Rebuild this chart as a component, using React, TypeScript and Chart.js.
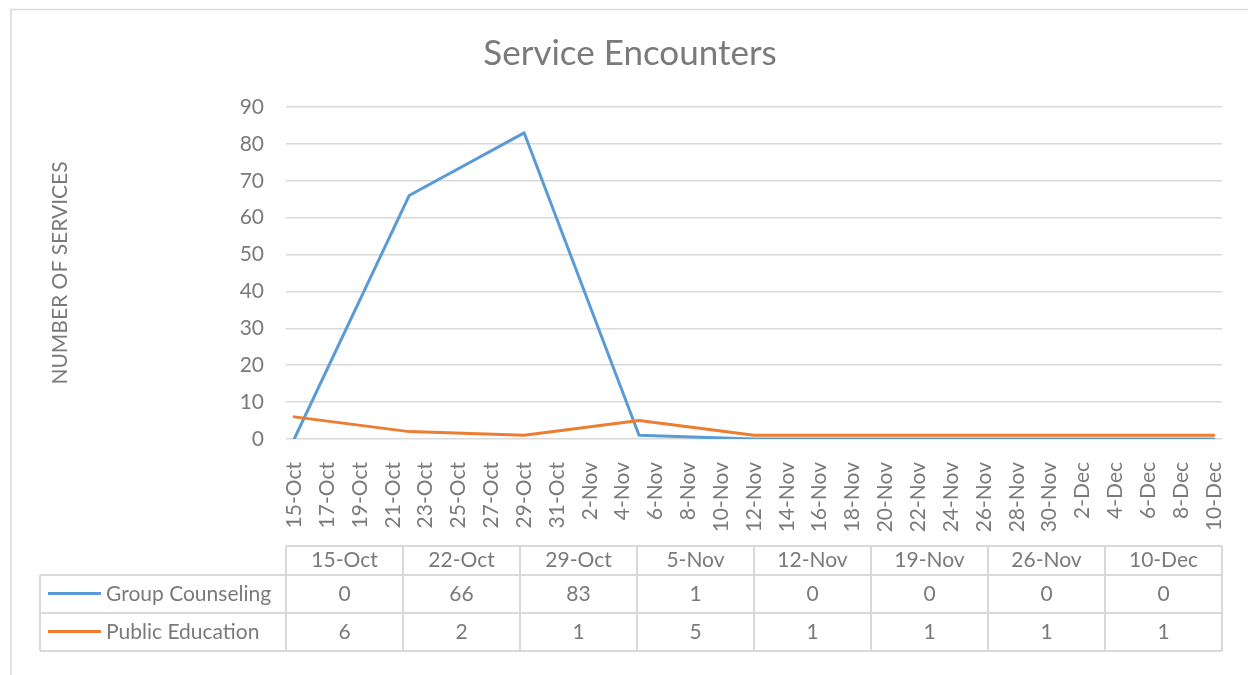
import React, { useEffect, useRef } from "react";
import { Chart, registerables } from "chart.js";

Chart.register(...registerables);

// ---------- data ----------
const YEAR = 2014;
const MONTHS = ["Jan", "Feb", "Mar", "Apr", "May", "Jun", "Jul", "Aug", "Sep", "Oct", "Nov", "Dec"];
const categories = ["15-Oct", "22-Oct", "29-Oct", "5-Nov", "12-Nov", "19-Nov", "26-Nov", "10-Dec"];
const groupCounseling = [0, 66, 83, 1, 0, 0, 0, 0];
const publicEducation = [6, 2, 1, 5, 1, 1, 1, 1];
const seriesNames = ["Group Counseling", "Public Education"];
const axisStartLabel = "15-Oct";
const axisEndLabel = "10-Dec";
const tickStepDays = 2;
const yMax = 90;
const yStep = 10;
const titleText = "Service Encounters";
const yTitleText = "NUMBER OF SERVICES";

// ---------- styles ----------
const BLUE = "#5B9BD5";
const ORANGE = "#ED7D31";
const TEXT = "#7a7a7a";
const GRID = "#d9d9d9";
const FONT = "Lato";

const DAY = 86400000;
function parseLabel(s: string): number {
  const [d, m] = s.split("-");
  return Date.UTC(YEAR, MONTHS.indexOf(m), parseInt(d, 10));
}
const t0 = parseLabel(axisStartLabel);
const lastDay = Math.round((parseLabel(axisEndLabel) - t0) / DAY);
const dayOf = (s: string) => Math.round((parseLabel(s) - t0) / DAY);
function fmt(dayOffset: number): string {
  const d = new Date(t0 + dayOffset * DAY);
  return `${d.getUTCDate()}-${MONTHS[d.getUTCMonth()]}`;
}

const tablePlugin = {
  id: "dataTable",
  beforeDraw(chart: any) {
    const ctx = chart.ctx;
    ctx.save();
    ctx.strokeStyle = GRID;
    ctx.lineWidth = 1.5;
    ctx.strokeRect(11, 9.5, 1260, 700);
    ctx.restore();
  },
  afterDraw(chart: any) {
    const ctx = chart.ctx;
    const { left, right } = chart.chartArea;
    const n = categories.length;
    const colW = (right - left) / n;
    const legendLeft = 40;
    const headerTop = 546;
    const rowLines = [575, 613, 651];
    ctx.save();
    ctx.strokeStyle = GRID;
    ctx.lineWidth = 2;
    const line = (x1: number, y1: number, x2: number, y2: number) => {
      ctx.beginPath();
      ctx.moveTo(x1, y1);
      ctx.lineTo(x2, y2);
      ctx.stroke();
    };
    line(left, headerTop, right, headerTop);
    rowLines.forEach((y) => line(legendLeft, y, right, y));
    for (let k = 0; k <= n; k++) line(left + k * colW, headerTop, left + k * colW, rowLines[2]);
    line(legendLeft, rowLines[0], legendLeft, rowLines[2]);

    ctx.font = `21px ${FONT}`;
    ctx.fillStyle = TEXT;
    ctx.textBaseline = "middle";
    ctx.textAlign = "center";
    const hy = (headerTop + rowLines[0]) / 2;
    const ry = [(rowLines[0] + rowLines[1]) / 2, (rowLines[1] + rowLines[2]) / 2];
    categories.forEach((c, i) => ctx.fillText(c, left + (i + 0.5) * colW, hy));
    const series = [groupCounseling, publicEducation];
    const colors = [BLUE, ORANGE];
    series.forEach((vals, r) => {
      ctx.textAlign = "center";
      vals.forEach((v, i) => ctx.fillText(String(v), left + (i + 0.5) * colW, ry[r]));
      ctx.strokeStyle = colors[r];
      ctx.lineWidth = 3;
      line(48, ry[r] - 0.5, 101, ry[r] - 0.5);
      ctx.textAlign = "left";
      ctx.fillText(seriesNames[r], 106, ry[r]);
    });
    ctx.restore();
  },
};

export default function App() {
  const ref = useRef<HTMLCanvasElement | null>(null);
  useEffect(() => {
    if (!ref.current) return;
    const xTicks: number[] = [];
    for (let d = 0; d <= lastDay; d += tickStepDays) xTicks.push(d);
    const chart = new Chart(ref.current, {
      type: "line",
      data: {
        datasets: [
          {
            label: seriesNames[0],
            data: categories.map((c, i) => ({ x: dayOf(c), y: groupCounseling[i] })),
            borderColor: BLUE,
            backgroundColor: BLUE,
            borderWidth: 3,
            pointRadius: 0,
            borderJoinStyle: "round",
            borderCapStyle: "round",
            order: 1,
          },
          {
            label: seriesNames[1],
            data: categories.map((c, i) => ({ x: dayOf(c), y: publicEducation[i] })),
            borderColor: ORANGE,
            backgroundColor: ORANGE,
            borderWidth: 3,
            pointRadius: 0,
            borderJoinStyle: "round",
            borderCapStyle: "round",
            order: 0,
          },
        ],
      },
      options: {
        responsive: false,
        devicePixelRatio: 1,
        animation: false,
        layout: { padding: { left: 38, right: 26, top: 0, bottom: 136 } },
        plugins: {
          legend: { display: false },
          tooltip: { enabled: false },
          title: {
            display: true,
            text: titleText,
            color: TEXT,
            font: { family: FONT, size: 35, weight: "normal" },
            padding: { top: 33, bottom: 32 },
          },
        },
        scales: {
          x: {
            type: "linear",
            min: -0.5,
            max: lastDay + 0.5,
            grid: { display: false },
            border: { display: false },
            afterBuildTicks: (scale: any) => {
              scale.ticks = xTicks.map((v) => ({ value: v }));
            },
            afterFit: (scale: any) => {
              scale.height = 100;
              scale.paddingLeft = 0;
              scale.paddingRight = 0;
            },
            ticks: {
              autoSkip: false,
              minRotation: 90,
              maxRotation: 90,
              padding: 15,
              color: TEXT,
              font: { family: FONT, size: 21 },
              callback: (v: any) => fmt(Number(v)),
            },
          },
          y: {
            min: 0,
            max: yMax,
            grid: { color: GRID, lineWidth: 1.5, drawTicks: false },
            border: { display: false },
            afterFit: (scale: any) => {
              scale.width = 248;
            },
            ticks: {
              stepSize: yStep,
              padding: 22,
              color: TEXT,
              font: { family: FONT, size: 21 },
            },
            title: {
              display: true,
              text: yTitleText,
              color: TEXT,
              font: { family: FONT, size: 21 },
              padding: { top: 9.5, bottom: 0 },
            },
          },
        },
      },
      plugins: [tablePlugin],
    } as any);
    return () => chart.destroy();
  }, []);
  return (
    <div style={{ position: "absolute", left: 0, top: 0, width: 1248, height: 675, background: "#fff" }}>
      <canvas ref={ref} width={1248} height={675} style={{ display: "block" }} />
    </div>
  );
}
